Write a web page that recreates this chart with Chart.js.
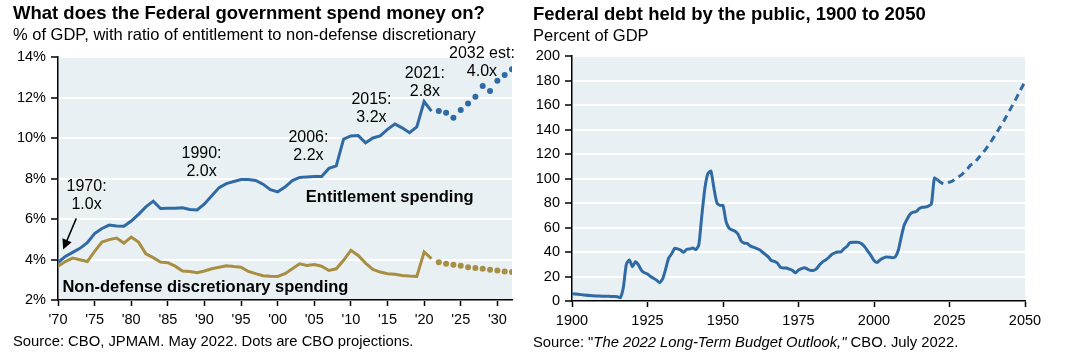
<!DOCTYPE html>
<html>
<head>
<meta charset="utf-8">
<script src="https://cdn.jsdelivr.net/npm/chart.js@4.4.1/dist/chart.umd.min.js"></script>
<style>
  body { margin: 0; background: #fff; font-family: "Liberation Sans", Arial, sans-serif; color: #000; }
  #wrap { position: relative; width: 1072px; height: 354px; overflow: hidden; }
  .panel { position: absolute; top: 0; height: 354px; }
  .panel canvas { position: absolute; left: 0; top: 0; }
  .txt { position: absolute; white-space: nowrap; line-height: 1; }
  .title { font-weight: bold; font-size: 18.5px; }
  .sub { font-size: 16.5px; }
  .src { font-size: 14.8px; }
</style>
</head>
<body>
<div id="wrap">
  <div class="panel" style="left:0;width:530px">
    <canvas id="spendChart" width="530" height="354"></canvas>
    <div class="txt title" style="left:13px;top:4px">What does the Federal government spend money on?</div>
    <div class="txt sub" style="left:13px;top:26px">% of GDP, with ratio of entitlement to non-defense discretionary</div>
    <div class="txt src" style="left:13px;top:334px">Source: CBO, JPMAM. May 2022. Dots are CBO projections.</div>
  </div>
  <div class="panel" style="left:530px;width:542px">
    <canvas id="debtChart" width="542" height="354"></canvas>
    <div class="txt title" style="left:3px;top:5px">Federal debt held by the public, 1900 to 2050</div>
    <div class="txt sub" style="left:3px;top:27px">Percent of GDP</div>
    <div class="txt src" style="left:3px;top:335px">Source: "<i>The 2022 Long-Term Budget Outlook,"</i> CBO. July 2022.</div>
  </div>
</div>
<script>
// left chart: spending as % of GDP
const spendYears = [1970, 1971, 1972, 1973, 1974, 1975, 1976, 1977, 1978, 1979,
  1980, 1981, 1982, 1983, 1984, 1985, 1986, 1987, 1988, 1989,
  1990, 1991, 1992, 1993, 1994, 1995, 1996, 1997, 1998, 1999,
  2000, 2001, 2002, 2003, 2004, 2005, 2006, 2007, 2008, 2009,
  2010, 2011, 2012, 2013, 2014, 2015, 2016, 2017, 2018, 2019,
  2020, 2021];
const entitlement = [3.85, 4.15, 4.35, 4.55, 4.83, 5.28, 5.53, 5.7, 5.65, 5.64,
  5.9, 6.23, 6.6, 6.88, 6.52, 6.53, 6.53, 6.55, 6.47, 6.45,
  6.74, 7.15, 7.55, 7.75, 7.85, 7.95, 7.95, 7.9, 7.72, 7.45,
  7.34, 7.58, 7.9, 8.05, 8.08, 8.1, 8.1, 8.5, 8.62, 9.95,
  10.1, 10.12, 9.76, 10.0, 10.1, 10.43, 10.69, 10.5, 10.26, 10.55,
  11.8, 11.33];
const discretionary = [3.67, 3.9, 4.07, 3.99, 3.9, 4.4, 4.86, 4.98, 5.06, 4.81,
  5.11, 4.86, 4.28, 4.09, 3.87, 3.84, 3.67, 3.43, 3.41, 3.35,
  3.43, 3.54, 3.62, 3.69, 3.65, 3.62, 3.41, 3.3, 3.2, 3.17,
  3.16, 3.3, 3.54, 3.79, 3.71, 3.75, 3.67, 3.46, 3.54, 3.96,
  4.45, 4.2, 3.82, 3.51, 3.38, 3.3, 3.27, 3.21, 3.18, 3.16,
  4.37, 4.04];
const projYears = [2022, 2023, 2024, 2025, 2026, 2027, 2028, 2029, 2030, 2031, 2032];
const entitlementProj = [11.33, 11.25, 11.0, 11.38, 11.7, 12.04, 12.57, 12.32, 12.83, 13.11, 13.4];
const discretionaryProj = [3.87, 3.79, 3.74, 3.69, 3.62, 3.58, 3.54, 3.49, 3.46, 3.41, 3.38];
const spendXTicks = [1970, 1975, 1980, 1985, 1990, 1995, 2000, 2005, 2010, 2015, 2020, 2025, 2030];
const spendYTicks = [2, 4, 6, 8, 10, 12, 14];

// right chart: federal debt held by the public
const debtYears = [1900, 1902, 1904, 1906, 1908, 1910, 1912, 1914, 1915, 1916,
  1917, 1918, 1919, 1920, 1921, 1922, 1923, 1924, 1925, 1926, 1927, 1928, 1929,
  1930, 1931, 1932, 1933, 1934, 1935, 1936, 1937, 1938, 1939, 1940, 1941, 1942,
  1943, 1944, 1945, 1946, 1947, 1948, 1949, 1950, 1951, 1952, 1953, 1954, 1955,
  1956, 1957, 1958, 1959, 1960, 1961, 1962, 1963, 1964, 1965, 1966, 1967, 1968,
  1969, 1970, 1971, 1972, 1973, 1974, 1975, 1976, 1977, 1978, 1979, 1980, 1981,
  1982, 1983, 1984, 1985, 1986, 1987, 1988, 1989, 1990, 1991, 1992, 1993, 1994,
  1995, 1996, 1997, 1998, 1999, 2000, 2001, 2002, 2003, 2004, 2005, 2006, 2007,
  2008, 2009, 2010, 2011, 2012, 2013, 2014, 2015, 2016, 2017, 2018, 2019, 2020, 2021];
const debtValues = [6, 5.5, 4.9, 4.4, 4.1, 3.9, 3.8, 3.6, 3.5, 2.7,
  11, 30, 33.5, 28, 32, 29.5, 25, 23, 22, 20, 18.5, 17, 15,
  18, 26, 35, 38.5, 43, 42.5, 41.5, 39.7, 42.3, 42.5, 43.3, 41.9, 46,
  70, 92, 104, 106, 92, 80, 78, 78, 65, 59.5, 58, 57, 54.5,
  49, 47.3, 47, 45, 44, 43, 42, 40, 38, 36, 33, 32.4, 31,
  27.5, 27, 27, 26, 25, 23, 25.3, 26.5, 27.2, 26, 25, 25, 26.5,
  29.5, 32, 33.5, 35.5, 38, 39.2, 40, 40, 42.5, 44.5, 47.5, 48, 48,
  47.9, 46.5, 44, 40.5, 37, 33, 31.5, 33.5, 35, 35.9, 35.8, 35.4, 36,
  41, 52, 62, 67, 71, 72.5, 73, 75.5, 76.5, 76.7, 77.5, 79, 100.4, 99];
const debtProjYears = [2021, 2022, 2023, 2024, 2025, 2026, 2027, 2028, 2029, 2030,
  2031, 2032, 2033, 2034, 2035, 2036, 2037, 2038, 2039, 2040,
  2041, 2042, 2043, 2044, 2045, 2046, 2047, 2048, 2049, 2050];
const debtProjValues = [99, 97, 95.8, 96, 97, 98, 100, 101.5, 103, 105.5,
  108, 111, 112, 115, 118, 120.8, 124, 127.5, 131, 135,
  139, 143, 147, 151.5, 156, 160.5, 165, 170, 174.5, 179];
const debtXTicks = [1900, 1925, 1950, 1975, 2000, 2025, 2050];
const debtYTicks = [0, 20, 40, 60, 80, 100, 120, 140, 160, 180, 200];

const blue = '#2f6aa4';
const gold = '#a88e42';
const plotFill = '#e9f0f4';
const fontFamily = '"Liberation Sans", Arial, sans-serif';

const pairs = (xs, ys) => xs.map((x, i) => ({ x: x, y: ys[i] }));

const plotBg = {
  id: 'plotBg',
  beforeDraw(chart) {
    const { ctx, chartArea: a } = chart;
    ctx.save();
    ctx.fillStyle = plotFill;
    ctx.fillRect(a.left, a.top, a.right - a.left, a.bottom - a.top);
    ctx.restore();
  }
};

// text labels and the arrow, placed in data coordinates
const notes = {
  id: 'notes',
  afterDatasetsDraw(chart, args, opts) {
    const { ctx, scales: { x, y } } = chart;
    (opts.items || []).forEach(n => {
      ctx.save();
      ctx.font = (n.bold ? 'bold 16.5px ' : '16px ') + fontFamily;
      ctx.fillStyle = '#000';
      ctx.textAlign = n.align || 'center';
      ctx.textBaseline = 'middle';
      const px = x.getPixelForValue(n.x);
      const py = y.getPixelForValue(n.y);
      n.lines.forEach((t, i) => {
        ctx.fillText(t, px, py + (i - (n.lines.length - 1) / 2) * 18);
      });
      ctx.restore();
    });
    if (opts.arrow) {
      const a = opts.arrow;
      const x1 = x.getPixelForValue(a.from[0]), y1 = y.getPixelForValue(a.from[1]);
      const x2 = x.getPixelForValue(a.to[0]), y2 = y.getPixelForValue(a.to[1]);
      const ang = Math.atan2(y2 - y1, x2 - x1);
      ctx.save();
      ctx.strokeStyle = '#000';
      ctx.fillStyle = '#000';
      ctx.lineWidth = 1.5;
      ctx.beginPath();
      ctx.moveTo(x1, y1);
      ctx.lineTo(x2 - 6 * Math.cos(ang), y2 - 6 * Math.sin(ang));
      ctx.stroke();
      ctx.beginPath();
      ctx.moveTo(x2, y2);
      ctx.lineTo(x2 - 10 * Math.cos(ang) + 5 * Math.sin(ang), y2 - 10 * Math.sin(ang) - 5 * Math.cos(ang));
      ctx.lineTo(x2 - 10 * Math.cos(ang) - 5 * Math.sin(ang), y2 - 10 * Math.sin(ang) + 5 * Math.cos(ang));
      ctx.closePath();
      ctx.fill();
      ctx.restore();
    }
  }
};

function axisX(min, max, tickList, fmt) {
  return {
    type: 'linear',
    min: min,
    max: max,
    afterBuildTicks: s => { s.ticks = tickList.map(v => ({ value: v })); },
    afterFit: s => { s.height = 24; },
    grid: { drawOnChartArea: false, tickColor: '#000', tickLength: 6, tickWidth: 1.5 },
    border: { color: '#000', width: 1.5 },
    ticks: { color: '#000', font: { family: fontFamily, size: 14.5 }, padding: 5, maxRotation: 0, callback: fmt }
  };
}

function axisY(min, max, tickList, width, fmt) {
  return {
    min: min,
    max: max,
    afterBuildTicks: s => { s.ticks = tickList.map(v => ({ value: v })); },
    afterFit: s => { s.width = width; },
    grid: { color: '#ffffff', lineWidth: 2, tickColor: '#000', tickLength: 7, tickWidth: 1.5 },
    border: { color: '#000', width: 1.5 },
    ticks: { color: '#000', font: { family: fontFamily, size: 14.5 }, padding: 5, callback: fmt }
  };
}

new Chart(document.getElementById('spendChart'), {
  type: 'line',
  data: {
    datasets: [
      { data: pairs(spendYears, entitlement), borderColor: blue, borderWidth: 3, pointRadius: 0, tension: 0 },
      { data: pairs(spendYears, discretionary), borderColor: gold, borderWidth: 3, pointRadius: 0, tension: 0 },
      { data: pairs(projYears, entitlementProj), showLine: false, pointRadius: 3, pointBackgroundColor: blue, pointBorderWidth: 0 },
      { data: pairs(projYears, discretionaryProj), showLine: false, pointRadius: 3, pointBackgroundColor: gold, pointBorderWidth: 0 }
    ]
  },
  options: {
    responsive: false,
    animation: false,
    layout: { padding: { left: 0, right: 18, top: 57, bottom: 30 } },
    scales: {
      x: axisX(1970, 2032, spendXTicks, v => "'" + String(v).slice(2)),
      y: axisY(2, 14, spendYTicks, 58, v => v + '%')
    },
    plugins: {
      legend: { display: false },
      tooltip: { enabled: false },
      notes: {
        items: [
          { x: 1973.9, y: 7.14, lines: ['1970:', '1.0x'] },
          { x: 1989.6, y: 8.77, lines: ['1990:', '2.0x'] },
          { x: 2004.2, y: 9.6, lines: ['2006:', '2.2x'] },
          { x: 2012.8, y: 11.45, lines: ['2015:', '3.2x'] },
          { x: 2020.1, y: 12.73, lines: ['2021:', '2.8x'] },
          { x: 2027.9, y: 13.74, lines: ['2032 est:', '4.0x'] },
          { x: 2015.3, y: 7.08, lines: ['Entitlement spending'], bold: true },
          { x: 1970.6, y: 2.63, lines: ['Non-defense discretionary spending'], bold: true, align: 'left' }
        ],
        arrow: { from: [1972.5, 6.03], to: [1970.7, 4.5] }
      }
    }
  },
  plugins: [plotBg, notes]
});

new Chart(document.getElementById('debtChart'), {
  type: 'line',
  data: {
    datasets: [
      { data: pairs(debtYears, debtValues), borderColor: blue, borderWidth: 3, pointRadius: 0, tension: 0.2 },
      { data: pairs(debtProjYears, debtProjValues), borderColor: blue, borderWidth: 3, borderDash: [7, 5], pointRadius: 0, tension: 0.2 }
    ]
  },
  options: {
    responsive: false,
    animation: false,
    layout: { padding: { left: 0, right: 47, top: 56, bottom: 29 } },
    scales: {
      x: axisX(1900, 2050, debtXTicks, v => String(v)),
      y: axisY(0, 200, debtYTicks, 42, v => String(v))
    },
    plugins: {
      legend: { display: false },
      tooltip: { enabled: false }
    }
  },
  plugins: [plotBg]
});
</script>
</body>
</html>
